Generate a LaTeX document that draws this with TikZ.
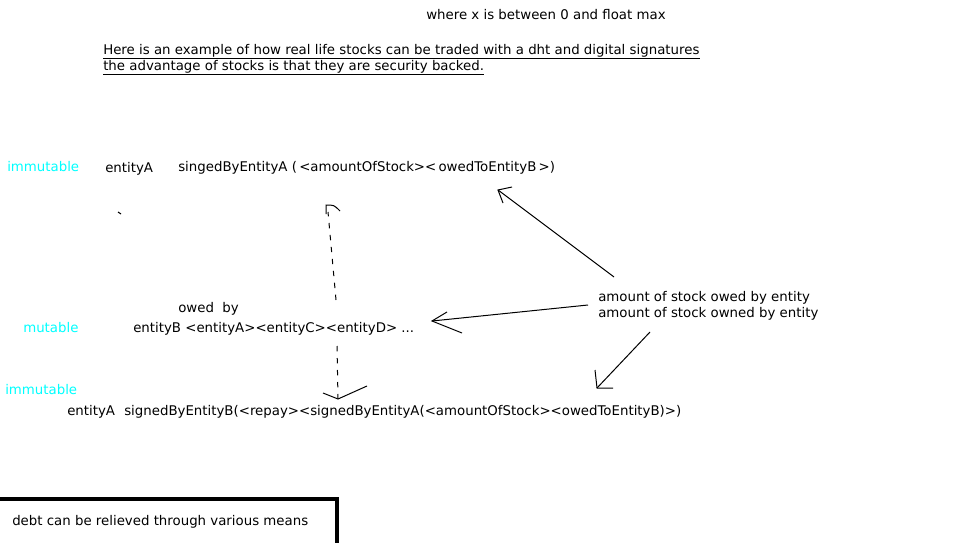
\documentclass[tikz,border=0pt]{standalone}
\usepackage{fontspec}
\setmainfont{DejaVu Sans}
\definecolor{labelcyan}{RGB}{0,255,255}
\tikzset{
    txt/.style={anchor=mid west, inner sep=0pt, yshift=-1.2pt, font=\fontsize{10}{12}\selectfont},
    tag/.style={txt, text=labelcyan},
    pen/.style={line width=0.75pt},
    dashpen/.style={pen, dash pattern=on 4pt off 5pt}
}
\begin{document}
\begin{tikzpicture}[x=0.75pt, y=-0.75pt]
    \useasboundingbox (0,0) rectangle (959,542);

    % Notes at the top
    \node[txt] (note) at (426,14) {where x is between 0 and float max};
    \node[txt] (introA) at (103,49) {Here is an example of how real life stocks can be traded with a dht and digital signatures};
    \node[txt] (introB) at (103,65) {the advantage of stocks is that they are security backed.};

    % Underlines of the two intro lines
    \draw[pen] ([yshift=-3pt]introA.base west) -- ([yshift=-3pt]introA.base east);
    \draw[pen] ([yshift=-3pt]introB.base west) -- ([yshift=-3pt]introB.base east);

    % First row (immutable)
    \node[tag] (immA) at (7,166) {immutable};
    \node[txt] (entA) at (105,167) {entityA};
    \node[txt] (sigA) at (178,166) {singedByEntityA (\,<amountOfStock><\,owedToEntityB\,>)};

    % Second row (mutable)
    \node[txt] (owed) at (178,307) {owed\ \ by};
    \node[tag] (mut) at (23,327) {mutable};
    \node[txt] (entB) at (133,327) {entityB <entityA><entityC><entityD> ...};

    % Third row (immutable)
    \node[tag] (immB) at (5,389) {immutable};
    \node[txt] (entC) at (67,410) {entityA};
    \node[txt] (sigB) at (124,410) {signedByEntityB(<repay><signedByEntityA(<amountOfStock><owedToEntityB)>)};

    % Note on the right
    \node[txt] (amtA) at (598,296) {amount of stock owed by entity};
    \node[txt] (amtB) at (598,312) {amount of stock owned by entity};

    % Ends of the hand drawn arrows
    \coordinate (S1) at (614,277);
    \coordinate (T1) at (498,190);
    \coordinate (S2) at (588,305);
    \coordinate (T2) at (432,321);
    \coordinate (S3) at (650,332);
    \coordinate (T3) at (597,388);
    \coordinate (U) at (336,300);
    \coordinate (V) at (328,212);
    \coordinate (W) at (337,346);
    \coordinate (X) at (338,399);

    % Arrows from the note
    \draw[pen] (S1) -- (T1);
    \draw[pen] (512,187) -- (T1) -- (503,203);
    \draw[pen] (S2) -- (T2);
    \draw[pen] (447,312) -- (T2) -- (462,333);
    \draw[pen] (S3) -- (T3);
    \draw[pen] (595,370) -- (T3) -- (613,388);

    % Dashed arrow up
    \draw[dashpen] (U) -- (V);
    \draw[pen] (326,214) -- (326,205) .. controls (334,205) .. (340,211);

    % Dashed arrow down
    \draw[dashpen] (W) -- (X);
    \draw[pen] (323,393) -- (X) -- (367,386);

    % Stray mark
    \draw[pen] (118,212) -- (121,214);

    % Box at the bottom
    \draw[line width=3.2pt] (0,499) -| (337,545);
    \node[txt] (debt) at (12,520) {debt can be relieved through various means};

\end{tikzpicture}
\end{document}
